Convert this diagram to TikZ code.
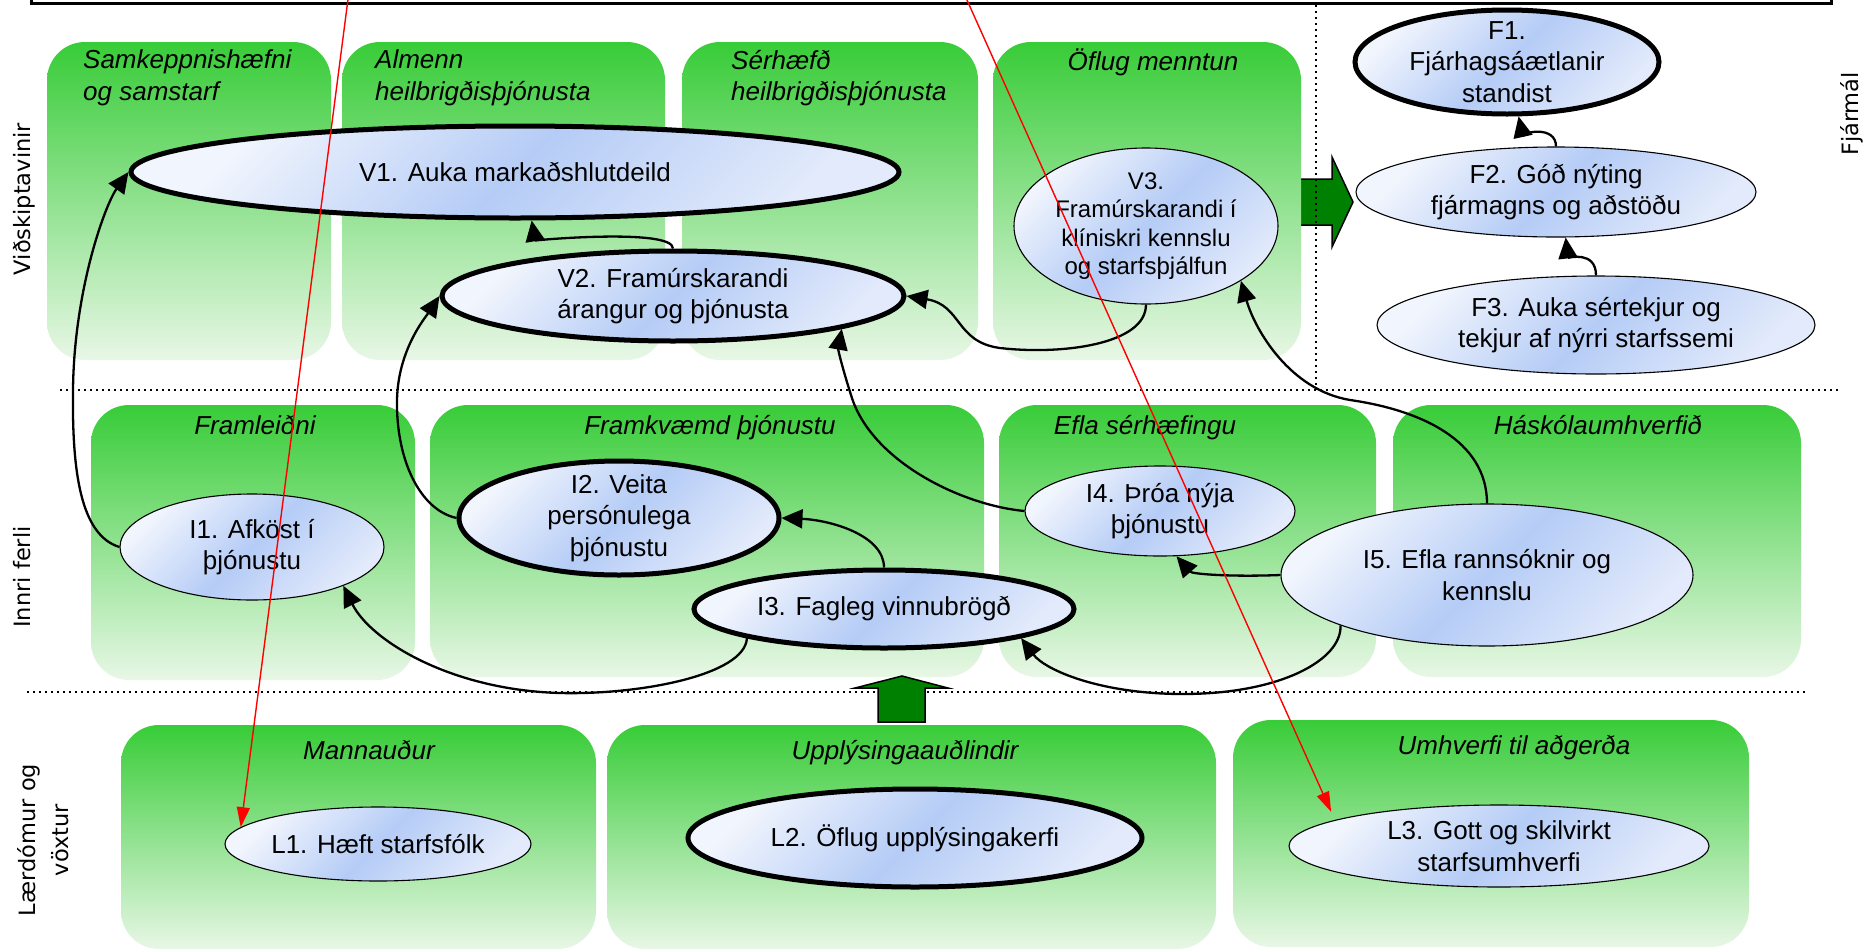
\documentclass[tikz,border=0pt]{standalone}
\usepackage{fontspec}
\setmainfont{Liberation Sans}
\newfontfamily\sidefont{DejaVu Sans}
\usetikzlibrary{shapes.geometric,arrows.meta}
\definecolor{gTop}{RGB}{56,204,56}
\definecolor{gBot}{RGB}{232,247,230}
\definecolor{elA}{RGB}{241,245,253}
\definecolor{elB}{RGB}{181,204,246}
\definecolor{elC}{RGB}{226,234,251}
\definecolor{arrowgreen}{RGB}{0,128,0}
\begin{document}
\begin{tikzpicture}[x=1pt,y=-1pt,
  box/.style={rounded corners=38pt, top color=gTop, bottom color=gBot},
  boxlbl/.style={font=\itshape\fontsize{26}{31.5}\selectfont, inner sep=0pt, align=left},
  ell/.style={ellipse, draw=black, line width=1.1pt, inner sep=-14pt, align=center,
    top color=elA, bottom color=elC, middle color=elB, shading angle=45,
    font=\fontsize{26}{31.5}\selectfont},
  ellthick/.style={ell, line width=5pt},
  conn/.style={-{Triangle[length=21pt,width=19pt]}, line width=2.3pt},
  redconn/.style={-{Triangle[length=20pt,width=13pt]}, line width=1.4pt, red},
  dots/.style={line width=2pt, dash pattern=on 2pt off 4pt},
  greenarrow/.style={fill=arrowgreen, draw=black, line width=1.5pt, line join=miter},
  side/.style={font=\sidefont\fontsize{22.5}{33}\selectfont, rotate=90, align=center, inner sep=0pt}
]
\useasboundingbox (0,0) rectangle (1875,951);
\clip (0,0) rectangle (1875,951);

% top frame
\draw[line width=3pt] (31,-40) rectangle (1831,3.5);

% green arrow to finance
\filldraw[greenarrow] (1295,179) -- (1332,179) -- (1332,157) -- (1353,202) -- (1332,247) -- (1332,225) -- (1295,225) -- cycle;

% boxes
\shade[box] (47,42) rectangle (331,360);
\shade[box] (342,42) rectangle (665,360);
\shade[box] (682,42) rectangle (978,360);
\shade[box] (993,42) rectangle (1301,360);
\shade[box] (91,405) rectangle (415,680);
\shade[box] (430,405) rectangle (984,677);
\shade[box] (999,405) rectangle (1376,677);
\shade[box] (1393,405) rectangle (1801,677);
\shade[box] (121,725) rectangle (596,949);
\shade[box] (607,725) rectangle (1216,949);
\shade[box] (1233,720) rectangle (1749,947);

% box labels
\node[boxlbl, anchor=west] (lb1) at (83,78) {Samkeppnishæfni\\og samstarf};
\node[boxlbl, anchor=west] (lb2) at (375,78) {Almenn\\heilbrigðisþjónusta};
\node[boxlbl, anchor=west] (lb3) at (731,78) {Sérhæfð\\heilbrigðisþjónusta};
\node[boxlbl, anchor=base] (lb4) at (1153,70) {Öflug menntun};
\node[boxlbl, anchor=base] (lb5) at (255,434) {Framleiðni};
\node[boxlbl, anchor=base] (lb6) at (710,434) {Framkvæmd þjónustu};
\node[boxlbl, anchor=base] (lb7) at (1145,434) {Efla sérhæfingu};
\node[boxlbl, anchor=base] (lb8) at (1598,434) {Háskólaumhverfið};
\node[boxlbl, anchor=base] (lb9) at (369,759) {Mannauður};
\node[boxlbl, anchor=base] (lb10) at (905,759) {Upplýsingaauðlindir};
\node[boxlbl, anchor=base] (lb11) at (1514,754) {Umhverfi til aðgerða};

% dotted separators
\draw[dots] (60,390) -- (1838,390);
\draw[dots] (27,692) -- (1805,692);
\draw[dots] (1316,5) -- (1316,390);

% side labels
\node[side] (s1) at (24,199) {Viðskiptavinir};
\node[side] (s2) at (22,577) {Innri ferli};
\node[side] (s3) at (43,840) {Lærdómur og\\vöxtur};
\node[side] (s4) at (1852,114) {Fjármál};

% objectives
\node[ellthick, minimum width=768pt, minimum height=92pt] (V1) at (515,172) {V1. Auka markaðshlutdeild};
\node[ellthick, minimum width=462pt, minimum height=90pt] (V2) at (673,296) {V2. Framúrskarandi\\árangur og þjónusta};
\node[ell, minimum width=264pt, minimum height=156pt, font=\fontsize{24}{28.5}\selectfont] (V3) at (1146,226) {V3.\\Framúrskarandi í\\klíniskri kennslu\\og starfsþjálfun};
\node[ellthick, minimum width=304pt, minimum height=104pt] (F1) at (1507,62) {F1.\\Fjárhagsáætlanir\\standist};
\node[ell, minimum width=400pt, minimum height=90pt] (F2) at (1556,192) {F2. Góð nýting\\fjármagns og aðstöðu};
\node[ell, minimum width=438pt, minimum height=98pt] (F3) at (1596,325) {F3. Auka sértekjur og\\tekjur af nýrri starfssemi};
\node[ell, minimum width=264pt, minimum height=106pt] (I1) at (252,547) {I1. Afköst í\\þjónustu};
\node[ellthick, minimum width=320pt, minimum height=114pt] (I2) at (619,518) {I2. Veita\\persónulega\\þjónustu};
\node[ellthick, minimum width=380pt, minimum height=78pt] (I3) at (884,609) {I3. Fagleg vinnubrögð};
\node[ell, minimum width=270pt, minimum height=90pt] (I4) at (1160,511) {I4. Þróa nýja\\þjónustu};
\node[ell, minimum width=412pt, minimum height=142pt] (I5) at (1487,575) {I5. Efla rannsóknir og\\kennslu};
\node[ell, minimum width=306pt, minimum height=74pt] (L1) at (378,844) {L1. Hæft starfsfólk};
\node[ellthick, minimum width=454pt, minimum height=98pt] (L2) at (915,838) {L2. Öflug upplýsingakerfi};
\node[ell, minimum width=420pt, minimum height=82pt] (L3) at (1499,846) {L3. Gott og skilvirkt\\starfsumhverfi};

% connectors
\draw[conn] (V2.north) .. controls (673,228) and (535,240) .. (V1.-71);
\draw[conn] (I1.west) .. controls (80,535) and (72,470) .. (73,390) .. controls (74,290) and (105,205) .. (V1.west);
\draw[conn] (I2.west) .. controls (420,510) and (396,460) .. (397,400) .. controls (398,350) and (425,318) .. (V2.west);
\draw[conn] (I4.west) .. controls (960,505) and (870,460) .. (851,395) .. controls (843,370) and (838,350) .. (V2.-11);
\draw[conn] (V3.south) .. controls (1146,345) and (1060,355) .. (1000,348) .. controls (955,342) and (962,305) .. (V2.east);
\draw[conn] (I5.north) .. controls (1487,440) and (1420,410) .. (1350,400) .. controls (1290,390) and (1255,330) .. (V3.-30);
\draw[conn] (I3.north) .. controls (884,535) and (830,520) .. (I2.east);
\draw[conn] (I3.-168) .. controls (745,675) and (640,695) .. (560,693) .. controls (450,690) and (370,640) .. (I1.-23);
\draw[conn] (I5.west) .. controls (1230,577) and (1192,574) .. (I4.-70);
\draw[conn] (I5.-161) .. controls (1342,660) and (1280,694) .. (1183,694) .. controls (1100,694) and (1045,670) .. (I3.-12);
\draw[conn] (F2.north) .. controls (1556,125) and (1522,132) .. (F1.-78);
\draw[conn] (F3.north) .. controls (1596,250) and (1568,258) .. (F2.-78);

% green arrow up
\filldraw[greenarrow] (878,722) -- (878,688) -- (855,688) -- (902,676) -- (948,688) -- (925,688) -- (925,722) -- cycle;

% red lines
\coordinate (r1) at (350.5,-20);
\coordinate (r2) at (958,-20);
\draw[redconn] (r1) -- (L1.173);
\draw[redconn, shorten >=9pt] (r2) -- (L3.171);
\end{tikzpicture}
\end{document}
